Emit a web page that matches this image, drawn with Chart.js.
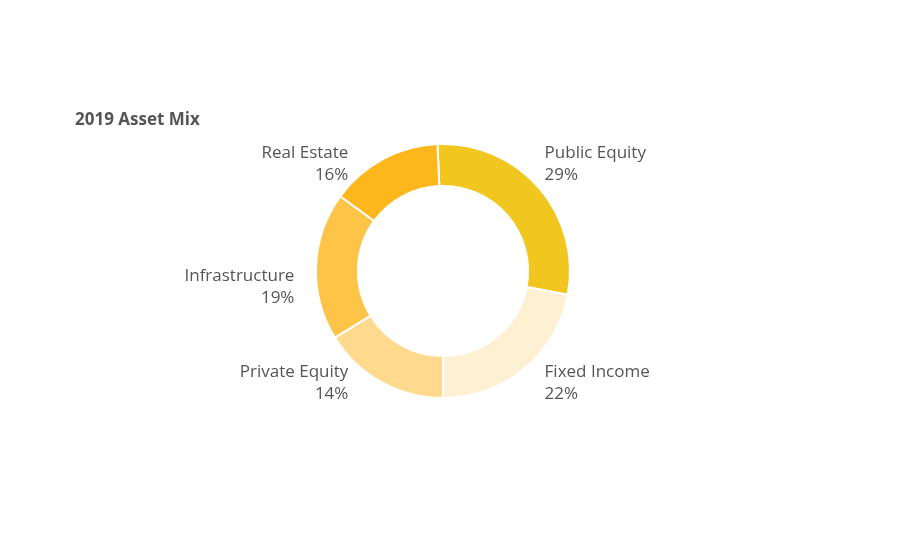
<!DOCTYPE html>
<html>
<head>
<meta charset="utf-8">
<script src="https://cdn.jsdelivr.net/npm/chart.js@4.4.1/dist/chart.umd.min.js"></script>
<style>
    html, body { margin: 0; padding: 0; background: #fff; }
    #wrap { width: 900px; height: 552px; position: relative; }
</style>
</head>
<body>
<div id="wrap"><canvas id="chart"></canvas></div>
<script>
const chartTitle = '2019 Asset Mix';
const categories = ['Public Equity', 'Fixed Income', 'Private Equity', 'Infrastructure', 'Real Estate'];
const shares = [28.7, 22, 16.2, 18.8, 14.3];
// percentages as printed beside the ring
const shareLabels = ['29%', '22%', '14%', '19%', '16%'];
const sliceColors = ['#F1C61E', '#FEF0D3', '#FFD98D', '#FEC447', '#FDB71D'];

const textColor = '#555555';
const fontFamily = '"Open Sans", "Noto Sans", sans-serif';

// labels sit in columns beside the ring, picked from each slice's middle angle
const sliceLabels = {
    id: 'sliceLabels',
    afterDraw(chart) {
        const ctx = chart.ctx;
        const meta = chart.getDatasetMeta(0);
        ctx.save();
        ctx.fillStyle = textColor;
        ctx.font = '17px ' + fontFamily;
        ctx.textBaseline = 'middle';
        meta.data.forEach((arc, i) => {
            const { x, y, outerRadius, startAngle, endAngle } = arc.getProps(['x', 'y', 'outerRadius', 'startAngle', 'endAngle'], true);
            const mid = (startAngle + endAngle) / 2;
            const dx = Math.cos(mid), dy = Math.sin(mid);
            let lx, ly;
            if (dx >= 0) {
                ctx.textAlign = 'left';
                lx = x + outerRadius * 0.8;
            } else {
                ctx.textAlign = 'right';
                lx = Math.abs(dy) < 0.3 ? x - outerRadius * 1.17 : x - outerRadius * 0.745;
            }
            if (dy < -0.3) ly = y - outerRadius * 0.84;
            else if (dy > 0.3) ly = y + outerRadius * 0.88;
            else ly = y + outerRadius * 0.13;
            ctx.fillText(categories[i], lx, ly - 11);
            ctx.fillText(shareLabels[i], lx, ly + 11);
        });
        ctx.textAlign = 'left';
        ctx.font = 'bold 17px ' + fontFamily;
        ctx.fillText(chartTitle, 75, 120);
        ctx.restore();
    }
};

new Chart(document.getElementById('chart'), {
    type: 'doughnut',
    data: {
        labels: categories,
        datasets: [{
            data: shares,
            backgroundColor: sliceColors,
            borderColor: '#ffffff',
            borderWidth: 2,
            hoverOffset: 0
        }]
    },
    options: {
        responsive: true,
        maintainAspectRatio: false,
        animation: false,
        rotation: -2.5,
        cutout: '67%',
        layout: {
            padding: { top: 143, bottom: 153, left: 300, right: 314 }
        },
        plugins: {
            legend: { display: false },
            tooltip: { enabled: false },
            title: { display: false }
        }
    },
    plugins: [sliceLabels]
});
</script>
</body>
</html>
